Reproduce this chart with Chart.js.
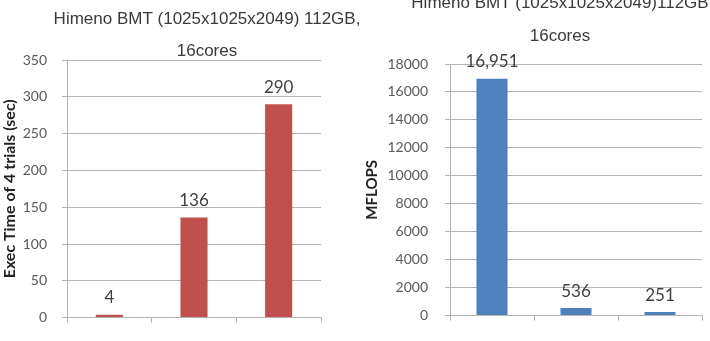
<!DOCTYPE html>
<html>
<head>
<meta charset="utf-8">
<script src="https://cdn.jsdelivr.net/npm/chart.js@4.4.1/dist/chart.umd.min.js"></script>
<style>
  html, body { margin: 0; padding: 0; background: #ffffff; width: 710px; height: 341px; overflow: hidden; }
  #wrap { position: relative; width: 710px; height: 341px; overflow: hidden; }
  canvas { position: absolute; }
  #c1 { left: 0px; top: 0px; }
  #c2 { left: 355px; top: -8px; }
</style>
</head>
<body>
<div id="wrap">
  <canvas id="c1" width="414" height="341"></canvas>
  <canvas id="c2" width="410" height="349"></canvas>
</div>
<script>
// ---- data ----
const categories = ['', '', ''];
const execTimeSec = [4, 136, 290];
const mflops = [16951, 536, 251];
const leftTitle = 'Himeno BMT (1025x1025x2049) 112GB,';
const rightTitle = 'Himeno BMT (1025x1025x2049)112GB';
const subTitle = '16cores';
const leftAxisTitle = 'Exec Time of 4 trials (sec)';
const rightAxisTitle = 'MFLOPS';
const leftTicks = { min: 0, max: 350, step: 50 };
const rightTicks = { min: 0, max: 18000, step: 2000 };

// ---- styles ----
const GRID = '#b4b4b4';
const TICKCOL = '#5a5a5a';
const TITLECOL = '#3a3a3a';

const valueLabels = {
  id: 'valueLabels',
  afterDatasetsDraw(chart) {
    const ctx = chart.ctx;
    ctx.save();
    ctx.font = '17px Lato';
    ctx.fillStyle = '#404040';
    ctx.textAlign = 'center';
    ctx.textBaseline = 'middle';
    chart.data.datasets.forEach((ds, di) => {
      chart.getDatasetMeta(di).data.forEach((el, i) => {
        ctx.fillText(Number(ds.data[i]).toLocaleString('en-US'), el.x, el.y - 17);
      });
    });
    ctx.restore();
  }
};

function makeChart(id, values, color, ticks, axisTitle, title, cfg) {
  return new Chart(document.getElementById(id), {
    type: 'bar',
    data: {
      labels: categories,
      datasets: [{
        data: values,
        backgroundColor: color,
        borderWidth: 0,
        barPercentage: cfg.barPct,
        categoryPercentage: 1,
        yAxisID: 'y'
      }]
    },
    options: {
      responsive: false,
      animation: false,
      layout: { padding: 0 },
      plugins: {
        legend: { display: false },
        tooltip: { enabled: false },
        title: {
          display: true,
          text: title,
          color: TITLECOL,
          font: { family: 'Liberation Sans', size: 17, weight: 'normal', lineHeight: 1.2 },
          padding: { top: cfg.titleTop, bottom: cfg.titleBottom }
        },
        subtitle: {
          display: true,
          text: subTitle,
          color: TITLECOL,
          font: { family: 'Liberation Sans', size: 17, weight: 'normal', lineHeight: 1.0 },
          padding: { top: 0, bottom: cfg.subBottom }
        }
      },
      scales: {
        x: {
          afterFit(scale) { scale.height = cfg.xHeight; },
          grid: {
            display: true,
            drawOnChartArea: false,
            drawTicks: true,
            tickLength: 5,
            offset: true,
            color: GRID
          },
          border: { display: true, color: GRID },
          ticks: { display: false }
        },
        y: {
          position: 'left',
          min: ticks.min,
          max: ticks.max,
          afterFit(scale) { scale.width = cfg.yWidth; },
          grid: { color: GRID, tickLength: 5, drawTicks: true },
          border: { display: true, color: GRID },
          ticks: {
            stepSize: ticks.step,
            color: TICKCOL,
            padding: cfg.tickPad,
            font: { family: 'Lato', size: 14 },
            callback: (v) => String(v)
          },
          title: {
            display: true,
            text: axisTitle,
            color: '#222222',
            font: { family: 'Lato', size: cfg.yTitleSize, weight: 'bold', lineHeight: 1.2 },
            padding: { top: cfg.yTitleTop, bottom: 0 }
          }
        },
        spacer: {
          type: 'linear',
          position: 'right',
          display: true,
          afterFit(scale) { scale.width = cfg.spacer; },
          grid: { display: false, drawTicks: false },
          border: { display: false },
          ticks: { display: false }
        }
      }
    },
    plugins: [valueLabels]
  });
}

makeChart('c1', execTimeSec, '#C0504D', leftTicks, leftAxisTitle, leftTitle, {
  barPct: 0.32, spacer: 93, titleTop: 8.8, titleBottom: 13.3, subBottom: 0.5,
  xHeight: 16, yWidth: 67, tickPad: 15, yTitleTop: 0, yTitleSize: 16
});
makeChart('c2', mflops, '#4F81BD', rightTicks, rightAxisTitle, rightTitle, {
  barPct: 0.37, spacer: 63, titleTop: 1.3, titleBottom: 13.8, subBottom: 19.5,
  xHeight: 13, yWidth: 95, tickPad: 17, yTitleTop: 8, yTitleSize: 15
});
</script>
</body>
</html>
